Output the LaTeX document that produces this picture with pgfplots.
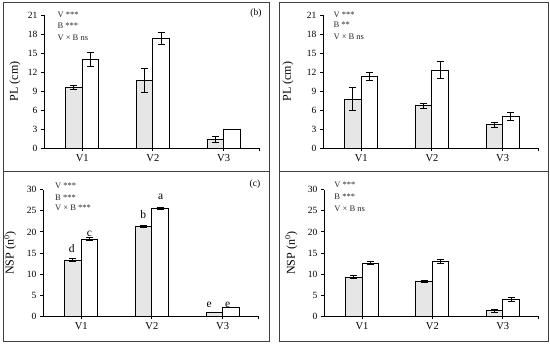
\documentclass[border=0pt]{standalone}
\usepackage{fontspec}
\setmainfont{Liberation Serif}
\usepackage{pgfplots}
\pgfplotsset{compat=1.18}
\definecolor{barg}{RGB}{230,230,230}
\tikzset{ann/.style={anchor=west, font=\fontsize{8.5}{9}\selectfont, inner sep=0pt, text=black!85}}
\pgfplotsset{
 panel/.style={
  scale only axis, anchor=south west,
  axis x line=bottom, axis y line=left,
  axis line style={-, line width=0.9pt},
  xmin=0.46, xmax=3.5, xtick={1,2,3}, xticklabels={V1,V2,V3},
  extra x ticks={3.5}, extra x tick labels={},
  tick align=outside, major tick length=3pt,
  tick style={line width=0.9pt, black},
  ymin=0,
  ybar=0pt, bar width=16.5pt,
  /pgf/number format/assume math mode=true,
  yticklabel style={font=\fontsize{9.5}{11}\selectfont},
  xticklabel style={font=\fontsize{10.5}{12}\selectfont},
  ylabel style={font=\fontsize{12}{14}\selectfont, anchor=center},
  clip=false,
 },
 gbar/.style={fill=barg, draw=black, line width=0.9pt,
   error bars/.cd, y dir=both, y explicit,
   error bar style={line width=0.9pt, black},
   error mark options={rotate=90, mark size=3.5pt, line width=0.9pt, black}},
 wbar/.style={fill=white, draw=black, line width=0.9pt,
   error bars/.cd, y dir=both, y explicit,
   error bar style={line width=0.9pt, black},
   error mark options={rotate=90, mark size=3.5pt, line width=0.9pt, black}},
}
\begin{document}
\begin{tikzpicture}
\useasboundingbox (0pt,0pt) rectangle (550pt,345pt);
% top-left
\begin{axis}[panel, at={(44pt,197pt)}, width=215pt, height=133pt,
  ymax=21, ytick={0,3,...,21}, ylabel={PL (cm)},
  ylabel style={at={(axis description cs:-0.135,0.5)}}]
\addplot[gbar] coordinates {(1,9.6) +- (0,0.35) (2,10.7) +- (0,1.9) (3,1.3) +- (0,0.45)};
\addplot[wbar] coordinates {(1,14.0) +- (0,1.1) (2,17.3) +- (0,0.9) (3,3.0) +- (0,0)};
\node[ann] at (axis description cs:0.062,1.0) {V ***};
\node[ann] at (axis description cs:0.062,0.917) {B ***};
\node[ann] at (axis description cs:0.062,0.827) {V × B ns};
\node[font=\fontsize{9.5}{11}\selectfont] at (axis description cs:0.986,1.015) {(b)};
\end{axis}
% top-right
\begin{axis}[panel, at={(323pt,197pt)}, width=215pt, height=133pt,
  ymax=21, ytick={0,3,...,21}, ylabel={PL (cm)},
  ylabel style={at={(axis description cs:-0.163,0.5)}}]
\addplot[gbar] coordinates {(1,7.7) +- (0,1.85) (2,6.65) +- (0,0.37) (3,3.65) +- (0,0.4)};
\addplot[wbar] coordinates {(1,11.3) +- (0,0.7) (2,12.3) +- (0,1.35) (3,5.0) +- (0,0.65)};
\node[ann] at (axis description cs:0.048,1.0) {V ***};
\node[ann] at (axis description cs:0.048,0.925) {B **};
\node[ann] at (axis description cs:0.048,0.835) {V × B ns};
\end{axis}
% bottom-left
\begin{axis}[panel, at={(43pt,28.7pt)}, width=215pt, height=126.6pt,
  ymax=30, ytick={0,5,...,30}, ylabel={NSP (n\textsuperscript{0})},
  ylabel style={at={(axis description cs:-0.153,0.5)}}]
\addplot[gbar] coordinates {(1,13.3) +- (0,0.3) (2,21.3) +- (0,0.3) (3,1.0) +- (0,0)};
\addplot[wbar] coordinates {(1,18.3) +- (0,0.3) (2,25.6) +- (0,0.3) (3,2.0) +- (0,0)};
\node[ann] at (axis description cs:0.056,1.03) {V ***};
\node[ann] at (axis description cs:0.056,0.934) {B ***};
\node[ann] at (axis description cs:0.056,0.855) {V × B ***};
\node[font=\fontsize{9.5}{11}\selectfont] at (axis description cs:0.986,1.045) {(c)};
\begin{scope}[every node/.style={font=\fontsize{11.5}{13}\selectfont, inner sep=0pt}]
\node at (axis cs:0.866,16.0) {d};
\node at (axis cs:1.115,19.6) {c};
\node at (axis cs:1.879,24.1) {b};
\node at (axis cs:2.125,28.3) {a};
\node at (axis cs:2.808,2.6) {e};
\node at (axis cs:3.07,2.6) {e};
\end{scope}
\end{axis}
% bottom-right
\begin{axis}[panel, at={(324pt,28.7pt)}, width=214pt, height=126.6pt,
  ymax=30, ytick={0,5,...,30}, ylabel={NSP (n\textsuperscript{0})},
  ylabel style={at={(axis description cs:-0.153,0.5)}}]
\addplot[gbar] coordinates {(1,9.3) +- (0,0.3) (2,8.3) +- (0,0.3) (3,1.3) +- (0,0.3)};
\addplot[wbar] coordinates {(1,12.6) +- (0,0.3) (2,13.0) +- (0,0.55) (3,4.0) +- (0,0.55)};
\node[ann] at (axis description cs:0.048,1.035) {V ***};
\node[ann] at (axis description cs:0.048,0.948) {B ***};
\node[ann] at (axis description cs:0.048,0.85) {V × B ns};
\end{axis}
% frames
\draw[black!75, line width=0.8pt] (3pt,343pt) rectangle (269pt,174pt);
\draw[black!75, line width=0.8pt] (279pt,343pt) rectangle (548pt,174pt);
\draw[black!75, line width=0.8pt] (3pt,174pt) rectangle (269pt,4pt);
\draw[black!75, line width=0.8pt] (279pt,174pt) rectangle (548pt,4pt);
\end{tikzpicture}
\end{document}
